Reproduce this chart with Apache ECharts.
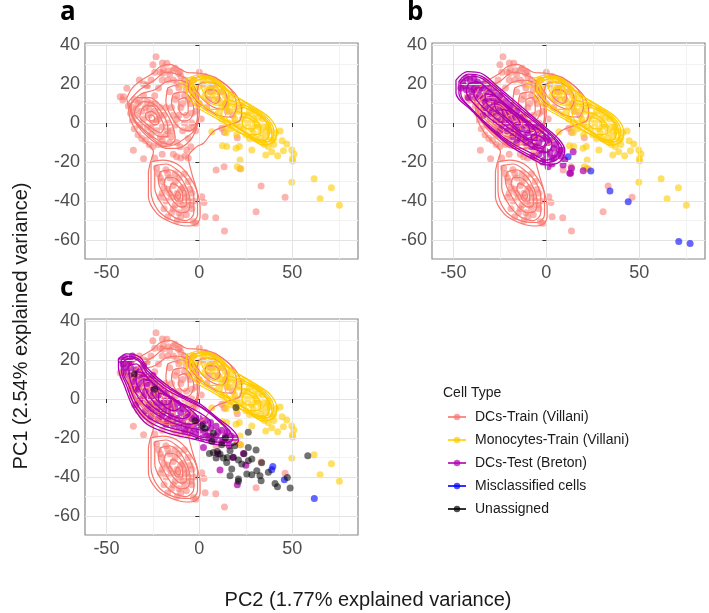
<!DOCTYPE html>
<html><head><meta charset="utf-8">
<script src="https://cdn.jsdelivr.net/npm/echarts@6/dist/echarts.min.js"></script>
<style>html,body{margin:0;padding:0;background:#fff}#c{width:709px;height:613px}</style>
</head><body><div id="c"></div>
<script>
// ---------- tick labels / ranges ----------
const xTicks = [-50, 0, 50];
const xMinorTicks = [-25, 25, 75];
const yTicks = [-60, -40, -20, 0, 20, 40];
const yMinorTicks = [-50, -30, -10, 10, 30];
const xRange = [-61.5, 85.3];
const yRange = [-69.7, 41];
const legendNames = ['DCs-Train (Villani)', 'Monocytes-Train (Villani)', 'DCs-Test (Breton)', 'Misclassified cells', 'Unassigned'];
const panelLabels = ['a', 'b', 'c'];
const xTitle = 'PC2 (1.77% explained variance)';
const yTitle = 'PC1 (2.54% explained variance)';

// ---------- points (PC2, PC1) ----------
const dcTrainPoints = [
[12,-2.7],[20.4,-7.5],[9,-24.1],[13.3,-22.4],[21.9,-23.4],[33.2,-32.3],[46.1,-38.1],[30.5,-45.5],[8.8,-48.6],[3.1,-48],[13.5,-55.4],[13.4,-4.8],
[-35.5,-14],[-30,-18.3],[-23.3,34],[-25,29.9],[-39,17.8],[-40.8,13.5],[-42.6,13.5],[-38.2,8.7],[-32.3,22],[-28.3,19.5],[-19.4,27.5],[-14,27.2],
[-10.4,26.3],[-19.9,30.8],[-17.5,30.6],[-10.4,-12.2],[-6.8,-13.8],[-4.6,-12.2],[-7.7,-16.9],[-6,-18],[-12.2,-17.3],[1.3,-37.8],[2.5,-40.7],
[-3.2,-50.6],[-1.9,-51.4],[-41.2,11.8],[-19.7,25.5],[-16.6,26.8],[-11.2,25.5],
[-36,8],[-34,4],[-33,10],[-31,6],[-30,2],[-29,8],[-28,-2],[-27,4],[-26,10],[-25,0],[-24,6],[-23,-4],[-22,2],[-21,8],[-20,-2],[-19,4],
[-18,-6],[-17,0],[-16,-10],[-15,-4],[-14,4],[-32,-1],[-26,-6],[-20,-9],[-35,12],[-30,14],[-24,14],[-22,-11],
[-16,16],[-13,12],[-11,18],[-10,8],[-8,14],[-7,4],[-5,10],[-4,0],[-3,16],[-2,6],[-12,2],[-9,-4],[-6,-8],[-14,22],[-8,22],[-2,-4],
[-24,26],[-20,22],[-16,25],[-10,24],[-28,19],[-22,18],[-13,28],
[-22,-26],[-20,-30],[-18,-24],[-17,-34],[-16,-28],[-15,-38],[-14,-32],[-13,-42],[-12,-36],[-11,-28],[-10,-40],[-9,-33],[-8,-44],
[-7,-38],[-6,-30],[-5,-42],[-18,-40],[-15,-46],[-10,-48],[-4,-36],[-20,-36],[-8,-26],
[-20,-16],[-14,-16],[-10,-18],[-24,-18],
[2,20],[6,16],[10,12],[14,10],[4,8],[-2,14],[0,26],[8,22],
[-37,5],[-36,1],[-35,-3],[-33,-6],[-31,-8],[-29,-9],[-27,-11],[-25,-12],[-34,7],[-32,11],[-28,11],[-27,7],[-26,-3],[-24,10],[-23,1],
[-21,4],[-21,-7],[-19,-11],[-18,8],[-17,-4],[-15,-7],[-15,8],[-13,-1],[-12,-10],[-12,14],[-9,10],[-7,17],[-6,12],[-4,5],[-3,-2],
[-1,10],[1,2],[-8,0],[-6,-3],[-11,4],[-30,20],[-26,22],[-21,26],[-17,22],[-12,20],[-7,20],[-3,22],
[-23,-23],[-21,-28],[-19,-33],[-17,-26],[-16,-36],[-14,-44],[-13,-30],[-12,-38],[-11,-46],[-10,-34],[-9,-42],[-8,-36],[-7,-47],
[-6,-40],[-5,-34],[-4,-44],[-3,-40],[-19,-44],[-17,-48],[-12,-50],[-21,-38],[-13,-26],
[3,24],[7,19],[12,16],[15,6],[18,4],[5,12],[0,10]
];
const monoTrainPoints = [
[6.7,-4.5],[14.4,-5],[12.4,-11.6],[19.7,-13],[21.5,-12.1],[28.2,-13.8],[21.9,-19],[20.4,-22.4],[22.3,-23.4],[43.4,-4.1],[44.5,-9.1],
[47,-10.8],[45.2,-14.2],[42.1,-16.8],[38.9,-14.7],[35.7,-16.4],[49.7,-13.8],[50.9,-15.9],[50,-18.3],[50.2,-19.5],[49.7,-30.4],
[61.7,-28.6],[71,-33.2],[64.9,-38.8],[75.3,-42.2],[-9.5,19.5],[-4.1,17.8],[14.7,-12.1],
[-2,18],[2,22],[3,14],[6,19],[8,12],[10,16],[12,8],[14,14],[16,6],[18,10],[19,2],[21,6],[22,-2],[24,4],[25,-6],[26,0],[27,6],
[28,-3],[29,2],[30,-8],[31,-1],[32,3],[33,-5],[34,-10],[35,-2],[36,-7],[37,-12],[38,-4],[40,-8],[20,-6],[16,0],[12,2],[10,5],[23,9],[30,5],
[-4,22],[0,19],[4,17],[5,22],[7,15],[9,19],[11,11],[13,17],[15,9],[17,13],[19,7],[20,0],[22,9],[23,2],[24,-3],[26,4],[27,-8],
[29,-5],[30,0],[32,-2],[33,-8],[34,2],[35,-11],[36,-4],[37,-1],[39,-9],[40,-11],[41,-5],[17,-3],[14,-2]
];
const dcTestBPoints = [
[0.9,-22.4],[9,-21.5],[12.6,-25.8],[13.5,-23.2],[19.8,-24.5],[9.9,-19],[14.4,-14.7],[8.1,-13.8],[13,-25.8],
[-44,19],[-41,22],[-40,16],[-38,20],[-36,14],[-35,18],[-33,11],[-32,16],[-30,8],[-29,13],[-27,5],[-26,11],[-24,2],[-23,8],[-21,0],
[-20,6],[-18,-3],[-17,3],[-15,-5],[-14,1],[-12,-7],[-11,-1],[-9,-9],[-8,-3],[-6,-12],[-5,-6],[-3,-14],[-2,-8],[0,-16],[1,-10],
[3,-18],[4,-13],[6,-16],[-1,-19],[-7,-17],[-16,-10],[-25,-4],[-34,4],[-42,13],
[-46,18],[-45,21],[-43,23],[-43,17],[-41,19],[-39,23],[-39,17],[-38,13],[-37,21],[-36,17],[-34,20],[-34,13],[-33,8],[-31,18],[-31,12],
[-30,5],[-28,16],[-28,10],[-27,1],[-25,14],[-25,8],[-24,-1],[-22,11],[-22,5],[-21,-4],[-19,9],[-19,2],[-18,-7],[-16,6],[-16,-1],
[-14,-8],[-13,3],[-13,-3],[-11,-10],[-10,0],[-10,-5],[-8,-12],[-7,-7],[-6,-2],[-4,-16],[-4,-10],[-3,-4],[-1,-14],[0,-7],[2,-15],
[2,-9],[4,-18],[5,-11],[7,-14],[8,-17],[-2,-20],[3,-21]
];
const miscBPoints = [[11.7,-17.3],[23.9,-24.6],[34.2,-34.9],[44,-40.4],[71.2,-60.7],[77.3,-61.7]];
const dcTestCPoints = [
[11.1,-36.4],[20.4,-43.9],[23.7,-27.9],[2.2,-24.8],[18,-30],[10,-28],[25,-34],[16,-24],[5,-20],
[-41,18],[-39,14],[-37,19],[-36,9],[-34,15],[-33,5],[-31,11],[-30,1],[-28,8],[-27,-3],[-25,4],[-23,-6],[-22,2],[-20,-8],[-19,-1],
[-17,-11],[-16,-3],[-14,-13],[-13,-5],[-11,-14],[-10,-7],[-8,-16],[-7,-9],[-5,-17],[-4,-10],[-2,-18],[-1,-12],[1,-20],[2,-13],
[4,-19],[6,-15],[8,-21],[10,-17],[12,-22],[14,-19],[16,-21],[-30,17],[-25,12],[-34,-3],[-26,-9],
[-42,20],[-40,21],[-40,16],[-38,12],[-37,16],[-35,11],[-35,5],[-33,14],[-32,8],[-32,-1],[-30,12],[-29,4],[-29,-6],[-27,10],[-26,1],
[-26,-5],[-24,8],[-23,-2],[-22,-10],[-21,5],[-20,-4],[-18,-13],[-18,3],[-17,-6],[-15,-9],[-15,0],[-12,-10],[-12,-2],[-9,-12],[-9,-5],
[-6,-14],[-6,-7],[-3,-15],[-3,-9],[0,-16],[0,-10],[3,-17],[3,-11],[6,-19],[6,-12],[9,-14],[9,-19],[12,-16],[13,-21],[15,-17],
[17,-19],[19,-20],[-38,19],[-36,22]
];
const miscCPoints = [[39.5,-34.6],[38.9,-36.3],[45.7,-41.4],[61.8,-51]];
const unassignedCPoints = [
[26.3,-17.1],[19.7,-4.3],[7.5,-17.6],[6.7,-21.7],[12,-23.4],[9.7,-26.9],[5.4,-27.9],[9,-30.3],[12.9,-30.3],[16.5,-26.5],[18.3,-29.9],
[21,-31.3],[22.8,-33.3],[26.3,-24.8],[30.5,-26.2],[28.2,-30.8],[26.3,-31.6],[33.5,-32.7],[17.4,-35.9],[25.5,-38.5],[28.2,-38.8],
[30.9,-36.8],[32.6,-39.3],[16.5,-39.3],[21,-41],[21,-42.2],[37.1,-37.6],[40.7,-43.3],[42,-45],[47.3,-40.2],[48.8,-45.6],[58.3,-29.1],
[33.2,-41.9],[7.5,-27.4],[11.1,-28.2],[14.7,-32.5],[-2.3,-11.1],[1.3,-13.7],[-24,5],[-35,13],[3,-15],[14,-20],[19,-24],[24,-28],[15,-30]
];

// ---------- density contours (closed rings, PC2/PC1 units) ----------
const dcTrainContours = [
[[-39.1,12.6],[-36,18],[-31,22],[-25,25.5],[-21,29],[-16,30],[-11,28],[-7,26],[0,25.5],[8,23.5],[15,19],[20,14],[22.8,6.7],[21.9,1.5],[16,-1],[8,-4],[2.2,-10.4],[-1.4,-12.1],[-5.9,-17.3],[-4.1,-25.8],[-1.4,-34.4],[0.4,-42.9],[0.4,-48],[-2.3,-52.3],[-6.8,-52.8],[-15.8,-50.6],[-22.9,-46.3],[-27.4,-37.8],[-27.4,-25.8],[-26.5,-20.7],[-24.7,-14.7],[-28.3,-10.4],[-33.7,-4.4],[-37.3,2.4],[-38.2,8.4],[-39.1,12.6]],
[[-38,11],[-32,17],[-24,22],[-18,26],[-12,25],[-6,22],[-1,15],[0,6],[-2,-4],[-6,-10],[-12,-13],[-18,-13],[-24,-10],[-31,-4],[-36,3],[-38,11]],
[[-37,10],[-31,15],[-24,17],[-18,21],[-12,22],[-6,20],[-2,13],[-1,4],[-3,-4],[-8,-8],[-13,-11],[-19,-12],[-25,-8],[-31,-3],[-36,3],[-37,10]],
[[-37,9],[-33,13],[-27,13],[-20,8],[-15,0],[-13,-8],[-16,-11],[-22,-9],[-29,-4],[-35,2],[-37,9]],
[[-34,8],[-30,11],[-25,10],[-20,5],[-17,-2],[-17,-7],[-21,-7],[-27,-3],[-32,1],[-35,5],[-34,8]],
[[-31,7],[-28,9],[-24,8],[-21,3],[-19,-2],[-21,-5],[-25,-3],[-29,0],[-32,3],[-31,7]],
[[-29,5],[-26,6],[-23,4],[-22,0],[-24,-1],[-27,1],[-29,3],[-29,5]],
[[-27,4],[-25,4],[-24,2],[-25,1],[-27,2],[-27,4]],
[[-17,18],[-10,20],[-4,17],[-1,10],[-1,2],[-5,-4],[-10,-3],[-15,3],[-18,11],[-17,18]],
[[-14,15],[-9,16],[-5,13],[-3,7],[-5,2],[-9,1],[-13,5],[-15,11],[-14,15]],
[[-11,12],[-8,13],[-6,10],[-6,6],[-8,4],[-11,7],[-11,12]],
[[-26,-20],[-20,-19],[-12,-21],[-5,-28],[-1,-37],[-1,-47],[-5,-51],[-14,-50],[-22,-45],[-26,-35],[-26,-20]],
[[-24,-22],[-18,-21],[-12,-24],[-6,-30],[-3,-38],[-3,-46],[-7,-50],[-14,-48],[-20,-42],[-24,-33],[-24,-22]],
[[-21,-25],[-16,-24],[-11,-27],[-7,-33],[-5,-40],[-6,-45],[-10,-46],[-15,-43],[-19,-37],[-22,-30],[-21,-25]],
[[-18,-28],[-14,-28],[-10,-31],[-7,-37],[-7,-42],[-10,-43],[-14,-40],[-17,-35],[-19,-31],[-18,-28]],
[[-15,-31],[-12,-32],[-9,-36],[-9,-40],[-12,-40],[-14,-37],[-16,-34],[-15,-31]],
[[-12,-35],[-10,-37],[-11,-39],[-13,-37],[-12,-35]],
[[-5,22],[2,24],[10,22],[17,17],[20,9],[17,3],[10,4],[3,8],[-3,13],[-6,18],[-5,22]],
[[0,20],[5,21],[12,18],[15,12],[12,7],[6,9],[1,13],[-1,17],[0,20]],
[[4,17],[8,17],[11,13],[9,10],[5,12],[3,15],[4,17]]
];
const monoTrainContours = [
[[-6.8,22.9],[0.4,24.6],[9.4,20.4],[20.1,13.5],[29,8.4],[38,2.4],[41.6,-4.5],[39.8,-9.6],[34.4,-11.3],[27.3,-7.8],[18.3,-2.7],[7.5,3.2],[-1.4,8.4],[-6.8,15.2],[-6.8,22.9]],
[[-5,22],[2,24],[10,21],[19,14],[27,9],[36,3],[40,-4],[38,-9],[33,-10],[26,-6],[18,-1],[8,4],[0,9],[-5,15],[-5,22]],
[[-4,21],[4,23],[12,19],[20,12],[28,7],[35,2],[38,-4],[35,-9],[28,-7],[20,-2],[12,3],[4,8],[-2,13],[-4,21]],
[[14,12],[22,10],[31,6],[38,-1],[39,-8],[33,-10],[24,-6],[16,-2],[12,4],[14,12]],
[[16,10],[24,8],[32,4],[37,-2],[37,-8],[32,-9],[25,-5],[18,-1],[14,4],[16,10]],
[[20,6],[27,4],[32,0],[33,-5],[28,-6],[22,-3],[18,1],[20,6]],
[[24,3],[29,1],[30,-3],[26,-3],[23,0],[24,3]],
[[-4,22],[3,24],[11,21],[16,14],[14,7],[6,7],[-1,12],[-5,18],[-4,22]],
[[-3,21],[3,23],[10,20],[14,14],[12,9],[6,10],[0,14],[-3,18],[-3,21]],
[[1,20],[6,21],[10,17],[10,13],[6,13],[2,16],[1,20]],
[[4,18],[7,18],[8,15],[5,15],[4,18]]
];
const dcTestBContours = [
[[-48.6,22],[-42.3,26.3],[-35.1,25.5],[-26.1,18.6],[-13.5,8.4],[-0.9,-1.9],[6.3,-7.9],[9.9,-13.8],[7.2,-19.8],[0,-21.5],[-6.3,-19],[-18.9,-12.1],[-29.7,-3.6],[-40.5,6.7],[-48.6,15.2],[-48.6,22]],
[[-47,21.5],[-42,25],[-35,24],[-26.5,17.8],[-14,7.6],[-2,-2],[5,-8],[8.5,-13.5],[6,-18.5],[0,-20.3],[-6.7,-17.6],[-19,-11],[-30,-2.8],[-40,7],[-47,15],[-47,21.5]],
[[-46,21],[-41,24],[-35,23],[-27,17],[-15,7],[-3,-2],[4,-8],[7,-13],[5,-17],[0,-19],[-7,-16],[-19,-10],[-30,-2],[-40,7],[-46,15],[-46,21]],
[[-42,20],[-37,21],[-30,16],[-20,8],[-9,0],[1,-7],[3,-12],[0,-15],[-7,-13],[-18,-6],[-30,2],[-39,10],[-43,16],[-42,20]],
[[-38,18],[-33,18],[-26,13],[-16,5],[-6,-2],[0,-8],[-2,-12],[-8,-10],[-18,-4],[-28,3],[-36,10],[-39,15],[-38,18]],
[[-33,15],[-28,14],[-22,9],[-14,3],[-6,-4],[-5,-9],[-10,-8],[-18,-2],[-26,5],[-32,10],[-33,15]],
[[-28,11],[-24,10],[-18,5],[-10,-1],[-9,-5],[-14,-4],[-21,2],[-27,7],[-28,11]],
[[-24,7],[-20,6],[-15,2],[-14,-1],[-18,0],[-23,4],[-24,7]],
[[-8,-6],[-3,-7],[0,-11],[-3,-13],[-7,-11],[-8,-6]]
];
const dcTestCContours = [
[[-43.5,20.5],[-39.1,23.1],[-31.9,21.4],[-28.3,16.2],[-20,9],[-10.4,2.6],[0.4,-2.6],[9.3,-9.4],[18.3,-16.2],[21,-21.4],[16.5,-23.9],[7.5,-23.1],[-3.2,-20.5],[-15.8,-17.9],[-28.3,-12.8],[-35.5,-4.3],[-40,6],[-43.5,16.2],[-43.5,20.5]],
[[-42,20],[-38,22],[-32,20],[-28,14.5],[-19,7],[-9,1.3],[1,-4],[9.6,-10.3],[16.5,-16.6],[18,-20.6],[14,-22.3],[6,-21.6],[-4.6,-18.8],[-17,-16],[-28,-11],[-35,-3],[-39,6.5],[-42,15],[-42,20]],
[[-41,19],[-37,21],[-32,19],[-28,13],[-18,5],[-8,0],[2,-5],[10,-11],[15,-17],[12,-20],[4,-20],[-6,-17],[-18,-14],[-28,-9],[-34,-2],[-38,7],[-41,14],[-41,19]],
[[-38,17],[-34,18],[-29,12],[-20,4],[-10,-2],[0,-7],[6,-12],[4,-16],[-4,-15],[-15,-12],[-26,-6],[-33,1],[-37,9],[-38,17]],
[[-34,14],[-30,13],[-24,7],[-14,0],[-4,-6],[0,-11],[-5,-13],[-15,-10],[-25,-4],[-31,3],[-34,9],[-34,14]],
[[-30,10],[-26,9],[-20,4],[-11,-2],[-5,-8],[-9,-10],[-18,-7],[-25,-1],[-29,5],[-30,10]],
[[-26,6],[-22,5],[-16,1],[-10,-4],[-14,-6],[-21,-2],[-25,2],[-26,6]],
[[-22,3],[-18,2],[-15,-1],[-18,-3],[-22,0],[-22,3]]
];

// ---------- chart ----------
const FONT = '"Liberation Sans", Arial, sans-serif';
const COL = { dcTrain: '#F8766D', mono: '#FFCC00', dcTest: '#B000B0', misc: '#0000FF', un: '#000000' };
const grids = [
  { left: 85, top: 43, width: 273, height: 216 },
  { left: 432, top: 43, width: 273, height: 216 },
  { left: 85, top: 319, width: 273, height: 216 }
].map(g => Object.assign(g, { show: true, borderColor: '#8A8A8A', borderWidth: 1.2, backgroundColor: '#fff', containLabel: false }));

function majorX(gi) {
  return { type: 'value', gridIndex: gi, min: xRange[0], max: xRange[1], z: 3,
    axisLine: { show: false },
    axisTick: { show: true, length: 4, lineStyle: { color: '#333' }, customValues: xTicks },
    axisLabel: { customValues: xTicks, fontSize: 18, color: '#4D4D4D', margin: 5, fontFamily: FONT },
    splitLine: { show: true, lineStyle: { color: '#E3E3E3', width: 1 } } };
}
function majorY(gi) {
  return { type: 'value', gridIndex: gi, min: yRange[0], max: yRange[1], z: 3,
    axisLine: { show: false },
    axisTick: { show: true, length: 4, lineStyle: { color: '#333' }, customValues: yTicks },
    axisLabel: { customValues: yTicks, fontSize: 18, color: '#4D4D4D', margin: 5, fontFamily: FONT },
    splitLine: { show: true, lineStyle: { color: '#E3E3E3', width: 1 } } };
}
function minorX(gi) {
  return { type: 'value', gridIndex: gi, min: xRange[0], max: xRange[1], position: 'top', z: 1,
    axisLine: { show: false }, axisTick: { show: false, customValues: xMinorTicks },
    axisLabel: { show: false, customValues: xMinorTicks },
    splitLine: { show: true, lineStyle: { color: '#F2F2F2', width: 1 } } };
}
function minorY(gi) {
  return { type: 'value', gridIndex: gi, min: yRange[0], max: yRange[1], position: 'right', z: 1,
    axisLine: { show: false }, axisTick: { show: false, customValues: yMinorTicks },
    axisLabel: { show: false, customValues: yMinorTicks },
    splitLine: { show: true, lineStyle: { color: '#F2F2F2', width: 1 } } };
}

function pts(id, data, color, opacity, gi, z) {
  return { type: 'scatter', name: id, data: data, xAxisIndex: gi, yAxisIndex: gi, symbolSize: 7,
    itemStyle: { color: color, opacity: opacity }, silent: true, z: z };
}
function rings(id, arr, color, gi, width, z) {
  return arr.map((r, k) => ({ type: 'line', name: id + k, data: r, xAxisIndex: gi, yAxisIndex: gi,
    showSymbol: false, symbol: 'none', smooth: 0.35, lineStyle: { color: color, width: width }, silent: true, z: z }));
}

let series = [];
for (let gi = 0; gi < 3; gi++) {
  series.push(pts('dcTrainPts' + gi, dcTrainPoints, COL.dcTrain, 0.55, gi, 2));
  series.push(pts('monoPts' + gi, monoTrainPoints, COL.mono, 0.6, gi, 2));
  series = series.concat(rings('dcTrainC' + gi + '_', dcTrainContours, COL.dcTrain, gi, 1.2, 3));
  series = series.concat(rings('monoC' + gi + '_', monoTrainContours, COL.mono, gi, 1.2, 3));
}
series.push(pts('dcTestPtsB', dcTestBPoints, COL.dcTest, 0.72, 1, 2));
series = series.concat(rings('dcTestCB_', dcTestBContours, COL.dcTest, 1, 1.3, 5));
series.push(pts('miscPtsB', miscBPoints, COL.misc, 0.6, 1, 6));
series.push(pts('dcTestPtsC', dcTestCPoints, COL.dcTest, 0.72, 2, 2));
series = series.concat(rings('dcTestCC_', dcTestCContours, COL.dcTest, 2, 1.3, 5));
series.push(pts('miscPtsC', miscCPoints, COL.misc, 0.6, 2, 6));
series.push(pts('unPtsC', unassignedCPoints, COL.un, 0.55, 2, 6));

const legendColors = [COL.dcTrain, COL.mono, COL.dcTest, COL.misc, COL.un];
legendNames.forEach((n, i) => series.push({ type: 'line', name: n, data: [], xAxisIndex: 0, yAxisIndex: 0,
  symbol: 'circle', symbolSize: 6, lineStyle: { color: legendColors[i], width: 1.5, opacity: 0.8 },
  itemStyle: { color: legendColors[i], opacity: 0.7 } }));

function txt(text, x, y, size, opts) {
  return Object.assign({ type: 'text', x: x, y: y, silent: true,
    style: Object.assign({ text: text, fontSize: size, fontFamily: FONT, fill: '#1a1a1a',
      align: 'left', verticalAlign: 'middle', textAlign: 'left', textVerticalAlign: 'middle' }, (opts && opts.style) || {}) },
    (opts && opts.el) || {});
}

const option = {
  animation: false,
  backgroundColor: '#fff',
  grid: grids,
  xAxis: [majorX(0), majorX(1), majorX(2), minorX(0), minorX(1), minorX(2)],
  yAxis: [majorY(0), majorY(1), majorY(2), minorY(0), minorY(1), minorY(2)],
  legend: { data: legendNames, orient: 'vertical', left: 447, top: 409, padding: 0, itemWidth: 18, itemHeight: 8, itemGap: 7,
    selectedMode: false, textStyle: { fontSize: 14, color: '#1a1a1a', fontFamily: FONT, lineHeight: 16, padding: [0, 0, 0, 4] } },
  graphic: [
    txt('Cell Type', 443, 393, 14),
    txt(panelLabels[0], 60, 13, 26, { style: { fontWeight: 'bold', fontFamily: '"Open Sans", sans-serif', fill: '#000' } }),
    txt(panelLabels[1], 407, 13, 26, { style: { fontWeight: 'bold', fontFamily: '"Open Sans", sans-serif', fill: '#000' } }),
    txt(panelLabels[2], 60, 289, 26, { style: { fontWeight: 'bold', fontFamily: '"Open Sans", sans-serif', fill: '#000' } }),
    txt(xTitle, 368, 600, 20, { style: { align: 'center', textAlign: 'center' } }),
    txt(yTitle, 21, 326, 20, { style: { align: 'center', textAlign: 'center' }, el: { rotation: Math.PI / 2 } })
  ],
  series: series
};
const chart = echarts.init(document.getElementById('c'));
chart.setOption(option);
</script>
</body></html>
